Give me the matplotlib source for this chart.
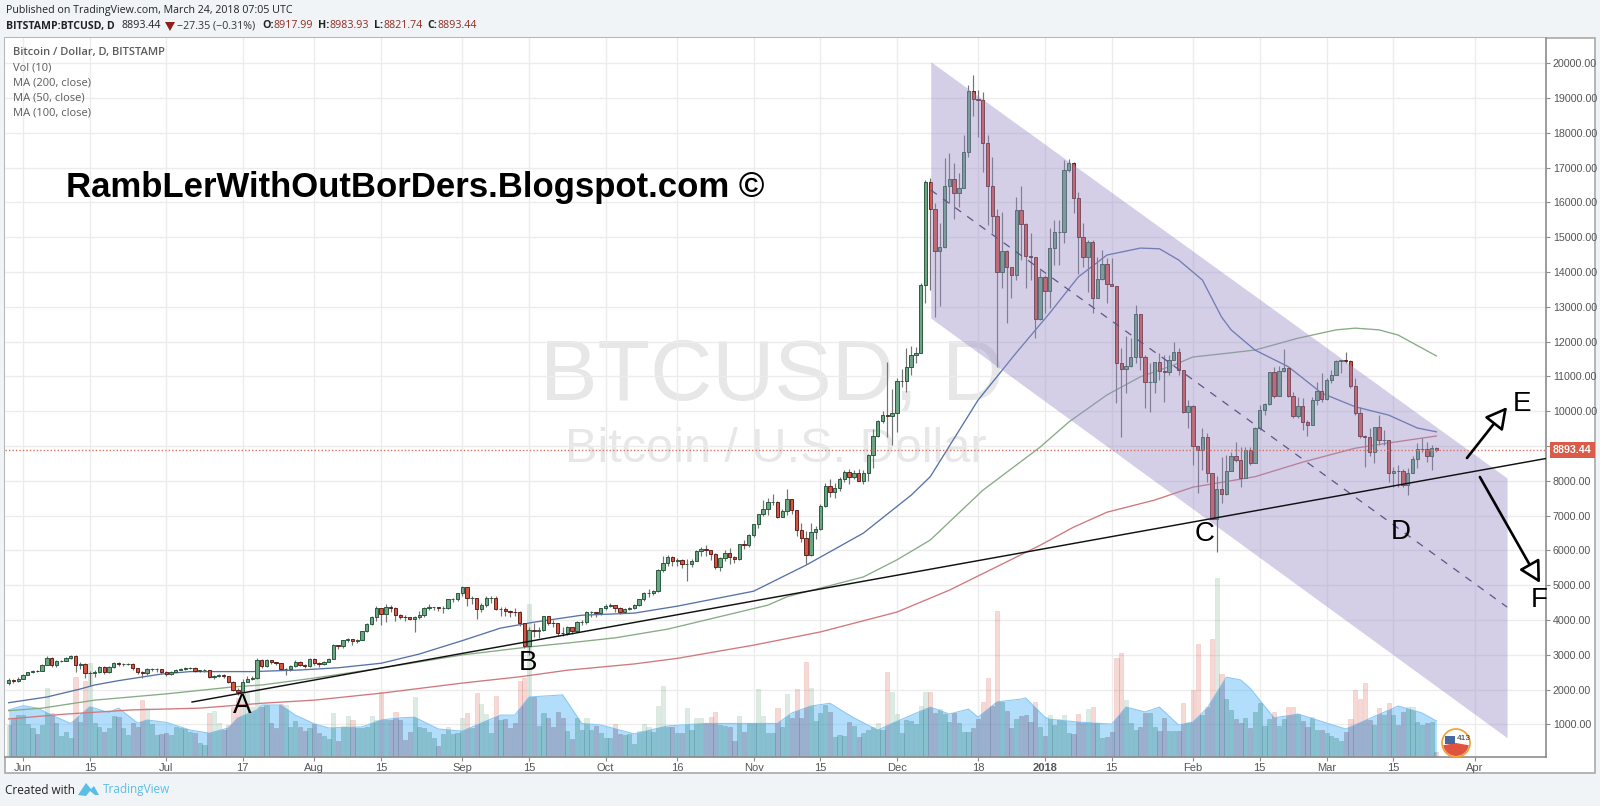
import matplotlib
matplotlib.use("Agg")
import matplotlib.pyplot as plt
import numpy as np
from matplotlib.patches import Circle, Polygon, Rectangle, Wedge
from matplotlib.transforms import IdentityTransform

plt.rcParams['font.family'] = ['Open Sans', 'DejaVu Sans']

W, H = 1600, 806

# day numbers count from 1 Jun 2017, first candle is 29 May
first_day = -3
first_open = 2200

close_may = [2280, 2250, 2310]
high_may = [2330, 2320, 2360]
low_may = [2130, 2180, 2230]
close_jun = [2420, 2500, 2545, 2540, 2710, 2920, 2710, 2830, 2835, 2900, 2977, 2710, 2740, 2470, 2490, 2520, 2660, 2520, 2640, 2775, 2730, 2730, 2740, 2610, 2500, 2470, 2585, 2585, 2585, 2500]
high_jun = [2450, 2520, 2570, 2570, 2730, 2960, 2930, 2860, 2860, 2930, 3000, 2990, 2790, 2760, 2540, 2570, 2680, 2680, 2680, 2790, 2790, 2770, 2770, 2760, 2620, 2540, 2620, 2620, 2610, 2590]
low_jun = [2380, 2410, 2490, 2500, 2530, 2700, 2660, 2650, 2800, 2820, 2880, 2520, 2600, 2350, 2120, 2360, 2480, 2460, 2490, 2620, 2680, 2680, 2700, 2580, 2440, 2340, 2420, 2530, 2510, 2440]
close_jul = [2450, 2520, 2565, 2595, 2630, 2630, 2535, 2560, 2560, 2375, 2400, 2420, 2390, 2230, 1990, 1925, 2230, 2305, 2325, 2860, 2680, 2855, 2805, 2770, 2585, 2585, 2680, 2800, 2710, 2680, 2880]
high_jul = [2540, 2540, 2600, 2620, 2650, 2650, 2640, 2580, 2590, 2570, 2420, 2450, 2440, 2400, 2240, 2050, 2310, 2400, 2380, 2900, 2870, 2880, 2850, 2800, 2780, 2610, 2700, 2840, 2820, 2730, 2900]
low_jul = [2400, 2430, 2500, 2560, 2580, 2590, 2520, 2510, 2520, 2350, 2310, 2370, 2340, 2200, 1970, 1840, 1900, 2220, 2290, 2300, 2620, 2660, 2740, 2700, 2570, 2420, 2540, 2660, 2680, 2620, 2660]
close_aug = [2757, 2738, 2805, 2880, 3280, 3255, 3430, 3450, 3400, 3430, 3685, 3880, 4080, 4340, 4165, 4385, 4355, 4145, 4100, 4080, 4030, 4100, 4145, 4340, 4365, 4365, 4355, 4355, 4600, 4600, 4770]
high_aug = [2910, 2810, 2830, 2910, 3320, 3290, 3440, 3490, 3420, 3470, 3700, 3920, 4110, 4400, 4330, 4470, 4420, 4370, 4180, 4150, 4090, 4130, 4260, 4370, 4460, 4370, 4380, 4410, 4620, 4640, 4780]
low_aug = [2700, 2640, 2720, 2790, 2870, 3160, 3210, 3360, 3280, 3330, 3420, 3650, 3860, 3960, 3870, 3950, 4230, 3980, 4030, 3980, 3990, 3660, 4040, 4100, 4300, 4300, 4260, 4200, 4330, 4530, 4540]
close_sep = [4960, 4625, 4625, 4310, 4435, 4625, 4640, 4310, 4330, 4270, 4240, 4220, 3905, 3255, 3715, 3700, 3710, 4115, 3925, 3906, 3640, 3620, 3790, 3695, 3955, 3955, 4220, 4220, 4190, 4340]
high_sep = [4980, 4950, 4700, 4500, 4480, 4680, 4700, 4680, 4380, 4390, 4300, 4350, 4250, 3920, 3800, 3920, 3800, 4130, 4120, 3990, 3920, 3800, 3820, 3800, 3980, 3990, 4250, 4260, 4240, 4360]
low_sep = [4680, 4400, 4470, 4020, 4230, 4370, 4500, 4280, 4130, 4130, 4100, 4120, 3820, 3200, 3000, 3510, 3480, 3690, 3860, 3790, 3550, 3550, 3580, 3610, 3660, 3860, 3900, 4100, 4100, 4150]
close_oct = [4405, 4433, 4357, 4240, 4320, 4337, 4424, 4605, 4768, 4790, 4835, 5440, 5650, 5800, 5707, 5727, 5612, 5620, 5707, 5995, 6030, 6015, 5890, 5535, 5775, 5920, 5800, 5765, 6177, 6160, 6445]
high_oct = [4450, 4480, 4440, 4370, 4350, 4370, 4450, 4620, 4800, 4900, 4870, 5460, 5840, 5860, 5850, 5780, 5760, 5760, 5750, 6020, 6090, 6150, 6010, 5920, 5800, 6000, 6060, 5850, 6200, 6310, 6480]
low_oct = [4300, 4370, 4220, 4180, 4210, 4290, 4310, 4410, 4550, 4670, 4730, 4820, 5380, 5550, 5550, 5550, 5500, 5130, 5530, 5690, 5840, 5850, 5720, 5460, 5400, 5700, 5620, 5650, 5740, 6040, 6100]
close_nov = [6760, 7040, 7190, 7400, 7400, 6970, 7145, 7470, 7165, 6590, 6370, 5870, 6540, 6610, 7290, 7860, 7690, 7785, 8045, 8247, 8100, 8240, 8007, 8220, 8745, 9290, 9730, 9900, 9865, 9942]
high_nov = [6770, 7060, 7450, 7500, 7620, 7420, 7200, 7770, 7480, 6900, 6800, 6550, 6800, 6700, 7330, 7950, 8050, 7950, 8120, 8300, 8340, 8300, 8350, 8300, 8780, 9480, 9750, 10000, 11425, 10630]
low_nov = [6400, 6640, 7000, 7030, 7300, 6930, 6950, 7030, 7050, 6430, 6240, 5620, 5850, 6330, 6600, 7260, 7550, 7500, 7700, 7960, 7900, 8060, 8030, 7900, 8000, 8360, 9250, 9650, 9270, 9030]
close_dec = [10870, 10880, 11260, 11620, 11680, 13630, 16600, 15800, 14615, 14711, 16480, 16665, 16263, 16405, 17460, 19200, 18965, 18945, 17700, 16480, 15610, 14012, 14615, 14155, 13915, 15784, 15382, 14470, 14420, 12640, 13868]
high_dec = [10946, 11205, 11808, 11870, 11856, 13677, 16646, 16694, 15975, 15400, 17269, 17432, 17125, 16838, 17940, 19376, 19664, 19233, 19165, 17940, 17300, 15803, 15736, 14634, 14155, 16167, 16474, 15400, 15113, 14443, 14060]
low_dec = [9413, 10706, 10563, 11030, 11377, 11680, 13100, 13485, 12718, 13025, 14680, 15975, 15516, 15880, 16405, 17300, 18486, 17890, 16886, 15353, 15113, 11280, 13532, 12527, 13245, 13772, 14347, 13532, 13772, 12096, 12623]
close_jan = [13456, 14682, 15160, 15160, 16930, 17144, 16140, 14998, 14424, 14870, 13245, 13790, 14220, 13657, 13610, 11395, 11205, 11300, 11570, 12785, 11570, 10830, 10850, 11425, 11160, 11120, 11470, 11690, 11185, 9990, 10150]
high_jan = [13916, 15257, 15497, 15497, 17221, 17240, 17173, 16311, 15400, 14922, 14922, 14443, 14634, 14395, 14395, 13600, 11809, 12163, 12096, 13054, 12767, 11617, 11378, 11425, 11665, 11617, 11617, 11980, 11809, 11186, 10324]
low_jan = [12814, 12958, 14203, 14203, 14845, 16886, 15707, 13945, 14155, 13437, 12814, 13245, 13772, 13100, 13628, 10228, 9270, 10515, 11280, 11400, 11186, 10084, 9988, 10515, 10899, 10276, 11042, 11473, 11042, 9941, 9510]
close_feb = [9010, 8887, 9250, 8220, 6904, 7757, 7623, 8285, 8715, 8600, 8090, 8900, 8520, 9510, 10036, 10210, 11120, 10450, 11167, 11234, 10450, 9864, 10152, 9700, 9606, 10324, 10583, 10343]
high_feb = [10180, 9000, 9510, 9366, 8216, 8140, 8700, 8743, 8840, 9127, 8983, 8983, 8983, 9558, 10180, 10248, 11138, 11282, 11301, 11780, 11282, 10564, 10420, 10372, 9750, 10420, 10851, 11090]
low_feb = [8456, 7640, 8312, 7977, 6923, 5965, 7355, 7590, 8320, 8552, 7833, 8070, 8456, 8504, 9462, 9893, 10180, 10372, 10468, 11138, 10420, 9797, 9797, 9462, 9290, 9606, 10180, 10276]
close_mar = [10899, 11043, 11455, 11470, 11450, 10736, 9941, 9300, 9250, 8820, 9540, 9175, 9175, 8217, 8293, 8284, 7881, 8217, 8619, 8906, 8906, 8715, 8935, 8893]
high_mar = [10947, 11186, 11474, 11474, 11694, 11474, 10947, 10133, 9318, 9510, 9558, 9893, 9462, 9127, 8408, 8456, 8332, 8360, 8715, 9079, 9222, 9127, 9031, 8984]
low_mar = [10324, 10803, 11043, 11090, 11378, 10660, 9893, 9222, 8408, 8715, 8504, 9031, 9031, 7977, 7833, 7833, 7833, 7600, 8217, 8360, 8839, 8552, 8313, 8822]

vol_may = [985, 1148, 1272]
vol_jun = [1270, 1010, 890, 725, 985, 2040, 1320, 1050, 670, 795, 600, 2370, 1080, 2260, 2760, 1030, 920, 795, 900, 1240, 1220, 890, 700, 1030, 920, 1690, 1460, 1010, 700, 730]
vol_jul = [745, 700, 940, 890, 860, 790, 745, 460, 410, 1340, 1390, 1030, 840, 985, 1510, 1750, 1900, 1900, 1500, 2330, 1500, 1560, 1030, 890, 1600, 1560, 940, 1100, 930, 820, 890]
vol_aug = [1010, 765, 670, 580, 1320, 525, 950, 1230, 1130, 890, 890, 920, 1250, 1130, 1920, 1130, 1130, 1350, 1130, 550, 795, 1780, 920, 890, 790, 600, 380, 730, 940, 720, 750]
vol_sep = [1200, 1320, 900, 1910, 1600, 1300, 750, 1820, 1130, 1150, 910, 1030, 2250, 2350, 4460, 1780, 955, 1320, 1200, 920, 1370, 1180, 820, 570, 1180, 840, 1180, 840, 955, 745]
vol_oct = [600, 620, 1000, 725, 700, 720, 440, 810, 1010, 920, 795, 1530, 2100, 920, 940, 745, 745, 1465, 840, 1180, 1200, 1030, 1205, 1350, 985, 950, 940, 525, 1240, 775, 1030]
vol_nov = [1030, 2020, 1240, 745, 745, 1480, 940, 1875, 1180, 2020, 1180, 2785, 2060, 1100, 1320, 1560, 1370, 650, 700, 680, 1080, 960, 650, 765, 840, 920, 1030, 840, 2520, 1925]
vol_dec = [1300, 745, 1130, 1110, 1010, 1530, 1925, 1925, 1320, 1435, 1300, 1080, 1320, 1030, 790, 790, 900, 1150, 1655, 2325, 1540, 4250, 1650, 1400, 900, 1150, 1240, 1270, 1060, 1655, 920]
vol_jan = [670, 1270, 985, 1160, 1270, 765, 725, 1300, 1030, 1435, 1490, 1030, 600, 650, 775, 2900, 3060, 1700, 1030, 840, 920, 1320, 1320, 920, 820, 1180, 820, 820, 820, 1610, 1030]
vol_feb = [1990, 3300, 1270, 1500, 3450, 5200, 2440, 1720, 1420, 1150, 1030, 1180, 890, 1350, 1610, 955, 1150, 1350, 955, 1150, 1510, 1510, 1300, 1100, 920, 1225, 840, 840]
vol_mar = [750, 670, 600, 530, 790, 1160, 1990, 1720, 2180, 1130, 985, 1465, 1270, 1625, 1270, 985, 1370, 1490, 1490, 1080, 985, 1030, 1080, 220]

ma50_days = [-3, 5, 12, 15, 20, 29, 35, 48, 58, 66, 75, 83, 92, 100, 107, 117, 128, 137, 153, 164, 176, 186, 190, 200, 208, 215, 221, 227, 234, 238, 242, 247, 251, 253, 258, 265, 272, 279, 286, 292, 296]
ma50_vals = [1626, 1790, 2020, 2135, 2260, 2450, 2520, 2520, 2566, 2630, 2760, 3025, 3410, 3770, 3940, 4140, 4200, 4400, 4830, 5580, 6500, 7590, 8120, 10320, 11680, 12820, 13860, 14490, 14690, 14670, 14350, 13770, 12710, 12340, 11760, 11280, 10520, 10130, 9890, 9520, 9410]
ma100_days = [-3, 4, 15, 30, 44, 50, 61, 75, 92, 106, 114, 124, 135, 149, 156, 160, 167, 176, 183, 190, 201, 213, 219, 227, 234, 241, 245, 251, 258, 267, 275, 279, 284, 288, 296]
ma100_vals = [1397, 1470, 1700, 1880, 2080, 2135, 2335, 2620, 3000, 3230, 3340, 3490, 3740, 4200, 4430, 4670, 4920, 5240, 5730, 6300, 7730, 8970, 9690, 10470, 10990, 11330, 11560, 11650, 11760, 12100, 12340, 12390, 12340, 12190, 11590]
ma200_days = [-3, 9, 23, 37, 50, 61, 75, 92, 104, 114, 128, 137, 153, 167, 183, 194, 213, 220, 227, 237, 245, 258, 268, 279, 286, 296]
ma200_vals = [1160, 1300, 1420, 1470, 1610, 1700, 1900, 2190, 2370, 2560, 2740, 2900, 3280, 3660, 4230, 4860, 6150, 6670, 7100, 7450, 7820, 8120, 8540, 8940, 9090, 9290]
volma_days = [-3, 0, 3, 6, 10, 14, 18, 20, 24, 26, 30, 35, 39, 43, 45, 49, 50, 54, 57, 61, 64, 71, 75, 79, 82, 87, 92, 95, 100, 103, 106, 113, 117, 121, 128, 135, 143, 158, 161, 165, 169, 174, 179, 182, 190, 194, 198, 200, 204, 209, 210, 214, 215, 221, 228, 231, 235, 238, 242, 245, 248, 252, 255, 257, 259, 262, 267, 277, 288, 293, 296]
volma_vals = [1417, 1540, 1470, 1270, 1030, 1510, 1340, 1470, 1040, 1130, 1060, 840, 750, 900, 1190, 1420, 1560, 1560, 1270, 1020, 900, 930, 1130, 1190, 1210, 870, 810, 985, 1270, 1270, 1790, 1850, 1030, 985, 730, 960, 1030, 1030, 1330, 1530, 1610, 1190, 840, 1030, 1500, 1300, 1440, 1210, 1650, 1730, 1760, 1210, 1150, 1070, 1010, 1500, 1360, 1500, 985, 1070, 1470, 2360, 2280, 2040, 1700, 1190, 1300, 870, 1530, 1330, 1100]

channel_days = [190.1, 310.8]
channel_upper = [20045, 8083]
channel_lower = [12681, 620]
channel_mid = [16360, 4374]
trend_days = [35.4, 318.95]
trend_vals = [1646, 8644]
last_price = 8893.44

arrow_e = [(302.4, 8658), (310.8, 10123)]
arrow_f = [(305.1, 8112), (317.7, 5066)]
point_names = ['A', 'B', 'C', 'D', 'E', 'F']
point_days = [45.9, 105.8, 247.5, 288.6, 313.9, 317.5]
point_vals = [1530, 2765, 6471, 6520, 10207, 4575]

tick_days = [0, 14, 30, 46, 61, 75, 92, 106, 122, 137, 153, 167, 183, 200, 214, 228, 245, 259, 273, 287, 304]
tick_labels = ['Jun', '15', 'Jul', '17', 'Aug', '15', 'Sep', '15', 'Oct', '16', 'Nov', '15', 'Dec', '18', '2018', '15', 'Feb', '15', 'Mar', '15', 'Apr']
price_ticks = list(range(1000, 21000, 1000))
legend_lines = ['Bitcoin / Dollar, D, BITSTAMP', 'Vol (10)', 'MA (200, close)', 'MA (50, close)', 'MA (100, close)']

closes = np.array(close_may + close_jun + close_jul + close_aug + close_sep + close_oct + close_nov + close_dec + close_jan + close_feb + close_mar, dtype=float)
highs = np.array(high_may + high_jun + high_jul + high_aug + high_sep + high_oct + high_nov + high_dec + high_jan + high_feb + high_mar, dtype=float)
lows = np.array(low_may + low_jun + low_jul + low_aug + low_sep + low_oct + low_nov + low_dec + low_jan + low_feb + low_mar, dtype=float)
vols = np.array(vol_may + vol_jun + vol_jul + vol_aug + vol_sep + vol_oct + vol_nov + vol_dec + vol_jan + vol_feb + vol_mar, dtype=float)
opens = np.concatenate([[first_open], closes[:-1]])
days = np.arange(first_day, first_day + len(closes))
up = closes >= opens

UP, DOWN = '#6ba583', '#d75442'
UP_EDGE, DOWN_EDGE = '#225437', '#5b1a13'
GREY = '#555555'


def figtext(x, y, s, **kw):
    # x, y in image pixels from top left
    kw.setdefault('va', 'center')
    return fig.text(x / W, 1 - y / H, s, **kw)


fig = plt.figure(figsize=(W / 100, H / 100), dpi=100, facecolor='#f0f4f7')
fig.patches.append(Rectangle((5 / W, 1 - 773 / H), 1590 / W, 735 / H, transform=fig.transFigure,
                             facecolor='white', edgecolor='#a9a9a9', lw=1.2, figure=fig, zorder=-1))

ax = fig.add_axes([5 / W, 1 - 757 / H, 1541 / W, 719 / H], zorder=1)
ax.set_xlim(-3.77, 318.95)
ax.set_ylim(66, 20727)
ax.set_facecolor('white')
ax.set_axisbelow(True)
ax.grid(True, color='#ececec', lw=1)
for s in ['top', 'left']:
    ax.spines[s].set_visible(False)
for s in ['bottom', 'right']:
    ax.spines[s].set_color('#8c8c8c')
    ax.spines[s].set_linewidth(1.2)
ax.yaxis.tick_right()
ax.set_yticks(price_ticks)
ax.set_yticklabels(['%.2f' % p for p in price_ticks], fontsize=7.7, color=GREY, family='Liberation Sans')
ax.set_xticks(tick_days)
ax.set_xticklabels(tick_labels, fontsize=8, color=GREY, family='Liberation Sans')
ax.tick_params(axis='both', length=3, color='#8c8c8c', pad=2)
ax.tick_params(axis='x', pad=1.5)
ax.get_xticklabels()[14].set_fontweight('bold')

# watermark
ax.text(0.498, 0.527, 'BTCUSD, D', transform=ax.transAxes, fontsize=62, color='#e7e7e7', ha='center', va='center',
        family='Liberation Sans', zorder=0.5)
ax.text(0.5, 0.428, 'Bitcoin / U.S. Dollar', transform=ax.transAxes, fontsize=35, color='#e7e7e7', ha='center', va='center',
        family='Liberation Sans', zorder=0.5)

# volume: pale bars, the Vol MA area, then the bars again but only inside the area
vol_colors = [UP if u else DOWN for u in up]
ax.bar(days, vols, width=0.86, color=vol_colors, alpha=0.22, linewidth=0.5, edgecolor=vol_colors, zorder=1)
area = ax.fill_between(volma_days, 0, volma_vals, color='#4bb1f6', alpha=0.42, lw=0, zorder=1.1)
ax.plot(volma_days, volma_vals, color='#8cc8f0', lw=0.8, zorder=1.15)
inner = ax.bar(days, vols, width=0.86, color=['#46968c' if u else '#6c6e9e' for u in up], alpha=0.27,
               edgecolor='#5f8aa5', linewidth=0.5, zorder=1.2)
for rect in inner:
    rect.set_clip_path(area.get_paths()[0], area.get_transform())

# moving averages
ax.plot(ma200_days, ma200_vals, color='#d0787c', lw=0.95, zorder=2)
ax.plot(ma100_days, ma100_vals, color='#88ab85', lw=0.95, zorder=2)
ax.plot(ma50_days, ma50_vals, color='#5673a8', lw=0.95, zorder=2)

# candles
ax.vlines(days, lows, highs, color='#737375', lw=0.85, zorder=3)
ax.bar(days, np.abs(closes - opens), bottom=np.minimum(opens, closes), width=0.7,
       color=[UP if u else DOWN for u in up], edgecolor=[UP_EDGE if u else DOWN_EDGE for u in up],
       linewidth=0.65, zorder=3.1)

# regression channel over the candles
ax.fill_between(channel_days, channel_lower, channel_upper, color='#998cc7', alpha=0.42, lw=0, zorder=4)
ax.plot(channel_days, channel_mid, color='#5d5688', lw=0.9, ls=(0, (6, 6)), zorder=4.1)

ax.axhline(last_price, color='#d9715f', lw=1, ls=(0, (1, 1.5)), zorder=4.2)
ax.plot(trend_days, trend_vals, color='#111111', lw=1.05, zorder=5)

for start, end in [arrow_e, arrow_f]:
    ax.annotate('', xy=end, xytext=start, zorder=6,
                arrowprops=dict(arrowstyle='-|>,head_width=0.7,head_length=1.3', fc='white', ec='black', lw=1.9,
                                shrinkA=0, shrinkB=0))

for name, d, v in zip(point_names, point_days, point_vals):
    ax.text(d, v, name, fontsize=20, color='black', ha='center', va='center', family='Liberation Sans', zorder=6,
            clip_on=False)

# price tag on the axis
ax.text(1.0045, (last_price - 66) / (20727 - 66), '8893.44', transform=ax.transAxes, fontsize=7.7, color='white',
        fontweight='bold', family='Liberation Sans', ha='left', va='center', zorder=8, clip_on=False,
        bbox=dict(boxstyle='square,pad=0.3', fc='#d95b48', ec='none'))

# chart legend
fy = [53, 68, 83, 98, 113]
for i, (y, s) in enumerate(zip(fy, legend_lines)):
    figtext(13, y, s, fontsize=8, color='#5c5c5c', fontweight='semibold' if i == 0 else 'normal')

figtext(66, 188, 'RambLerWithOutBorDers.Blogspot.com ©', fontsize=25, fontweight='bold', color='black',
        family='Liberation Sans')

# header rows
figtext(6, 10, 'Published on TradingView.com, March 24, 2018 07:05 UTC', fontsize=7.7, color='#222222')
figtext(6, 26, 'BITSTAMP:BTCUSD, D', fontsize=7.6, fontweight='bold', color='#222222')
figtext(122, 26, '8893.44', fontsize=7.7, color='#222222')
figtext(177, 26, '\u221227.35 (\u22120.31%)', fontsize=7.7, color='#333333')
for x, s, c, w in [(262, 'O:', '#222222', 'bold'), (273, '8917.99', '#8e2a22', 'normal'),
                   (318, 'H:', '#222222', 'bold'), (330, '8983.93', '#8e2a22', 'normal'),
                   (374, 'L:', '#222222', 'bold'), (383, '8821.74', '#8e2a22', 'normal'),
                   (427, 'C:', '#222222', 'bold'), (437, '8893.44', '#8e2a22', 'normal')]:
    figtext(x, 26, s, fontsize=7.7, color=c, fontweight=w)
fig.patches.append(Polygon([(165 / W, 1 - 22 / H), (175 / W, 1 - 22 / H), (170 / W, 1 - 31 / H)], closed=True,
                           transform=fig.transFigure, facecolor='#8e1f1a', edgecolor='none', figure=fig))

# footer
figtext(5, 790, 'Created with', fontsize=8.5, color='#222222')
figtext(103, 790, 'TradingView', fontsize=8.5, color='#5cbde6')
logo = [(78, 795), (86, 783), (91, 789), (94, 786), (99, 795), (95, 795), (90, 791), (86, 796)]
fig.patches.append(Polygon([(x / W, 1 - y / H) for x, y in logo], closed=True, transform=fig.transFigure,
                           facecolor='#5cbde6', edgecolor='none', figure=fig))

# little badge at the end of the volume
tr = IdentityTransform()
cx, cy = 1456, H - 743
fig.patches.append(Circle((cx, cy), 14, transform=tr, facecolor='white', edgecolor='#f0a030', lw=1.2, figure=fig, zorder=3))
fig.patches.append(Wedge((cx, cy), 13, 190, 350, transform=tr, facecolor='#e0533f', edgecolor='none', figure=fig, zorder=3))
fig.patches.append(Rectangle((cx - 11, cy - 1), 10, 8, transform=tr, facecolor='#46689f', edgecolor='none', figure=fig, zorder=3))
fig.text((cx + 8) / W, (cy + 5) / H, '413', fontsize=6, color='#333333', ha='center', va='center', family='Liberation Sans', zorder=4)

fig.savefig('out.png', dpi=100, facecolor=fig.get_facecolor())
